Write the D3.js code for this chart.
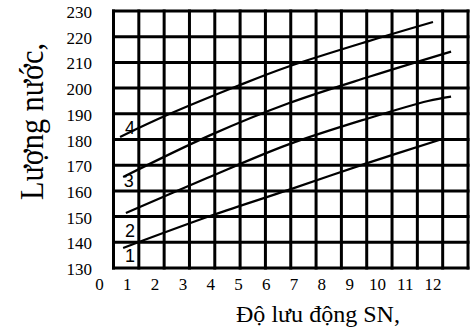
<!DOCTYPE html>
<html>
<head>
<meta charset="utf-8">
<script src="https://cdn.jsdelivr.net/npm/d3@7"></script>
<style>
  html, body { margin: 0; padding: 0; background: #fff; }
  svg { display: block; }
</style>
</head>
<body>
<svg id="chart" width="476" height="333"></svg>
<script>
// Water demand (Lượng nước) against slump (Độ lưu động SN), four curves
const xTicks = [0, 1, 2, 3, 4, 5, 6, 7, 8, 9, 10, 11, 12];
const yTicks = [130, 140, 150, 160, 170, 180, 190, 200, 210, 220, 230];
const seriesNames = ["1", "2", "3", "4"];

const curve1X = [0.85, 4.08, 6.78, 9.55, 12.28];
const curve1Y = [137.8, 150.6, 160.3, 170.5, 180.0];

const curve2X = [0.95, 3.87, 6.78, 9.66, 11.82, 12.65];
const curve2Y = [151.4, 165.0, 178.0, 188.2, 195.0, 196.7];

const curve3X = [0.85, 4.01, 6.78, 9.73, 12.65];
const curve3Y = [165.4, 181.8, 194.0, 204.5, 214.2];

const curve4X = [0.74, 2.43, 5.05, 6.78, 9.66, 12.0];
const curve4Y = [181.0, 189.5, 201.2, 208.3, 218.2, 225.7];

// where each curve number sits, in data units (x, y)
const labelX = [1.1, 1.1, 1.05, 1.1];
const labelY = [132.5, 142.0, 161.5, 182.3];

const gridColumns = 14;

const svg = d3.select("#chart");

const plot = { left: 113.5, right: 468, top: 11, bottom: 268 };

const x = d3.scaleLinear().domain([0, 12]).range([99.5, 433]);
const y = d3.scaleLinear().domain([130, 230]).range([plot.bottom, plot.top]);
const gx = d3.scaleLinear().domain([0, gridColumns]).range([plot.left, plot.right]);

// grid
const grid = svg.append("g").attr("stroke", "#000").attr("stroke-width", 3).attr("stroke-linecap", "square");
grid.selectAll("line.h").data(yTicks).join("line")
  .attr("class", "h")
  .attr("x1", plot.left).attr("x2", plot.right)
  .attr("y1", d => y(d)).attr("y2", d => y(d));
grid.selectAll("line.v").data(d3.range(gridColumns + 1)).join("line")
  .attr("class", "v")
  .attr("x1", d => gx(d)).attr("x2", d => gx(d))
  .attr("y1", plot.top).attr("y2", plot.bottom);

// curves
const series = [
  d3.zip(curve1X, curve1Y),
  d3.zip(curve2X, curve2Y),
  d3.zip(curve3X, curve3Y),
  d3.zip(curve4X, curve4Y)
];
const line = d3.line().x(d => x(d[0])).y(d => y(d[1])).curve(d3.curveCatmullRom.alpha(0.5));
svg.append("g").selectAll("path").data(series).join("path")
  .attr("d", line)
  .attr("fill", "none")
  .attr("stroke", "#000")
  .attr("stroke-width", 2.2);

// curve numbers
svg.append("g").selectAll("text").data(seriesNames).join("text")
  .attr("x", (d, i) => x(labelX[i]))
  .attr("y", (d, i) => y(labelY[i]))
  .attr("text-anchor", "middle")
  .attr("font-family", "Liberation Sans, Arial, sans-serif")
  .attr("font-size", 18)
  .attr("fill", "#000")
  .text(d => d);

// y tick labels
const serif = "Liberation Serif, Times New Roman, serif";
svg.append("g").selectAll("text").data(yTicks).join("text")
  .attr("x", 92)
  .attr("y", d => y(d) + 7)
  .attr("text-anchor", "end")
  .attr("font-family", serif)
  .attr("font-size", 17)
  .text(d => d);

// x tick labels
svg.append("g").selectAll("text").data(xTicks).join("text")
  .attr("x", d => x(d))
  .attr("y", 290)
  .attr("text-anchor", "middle")
  .attr("font-family", serif)
  .attr("font-size", 17)
  .text(d => d);

// axis titles
svg.append("text")
  .attr("x", 236)
  .attr("y", 322)
  .attr("font-family", serif)
  .attr("font-size", 23.5)
  .attr("textLength", 164)
  .attr("lengthAdjust", "spacingAndGlyphs")
  .text("Độ lưu động SN,");

svg.append("text")
  .attr("transform", "translate(43,200) rotate(-90)")
  .attr("x", 0).attr("y", 0)
  .attr("font-family", serif)
  .attr("font-size", 34)
  .attr("textLength", 157)
  .attr("lengthAdjust", "spacingAndGlyphs")
  .text("Lượng nước,");
</script>
</body>
</html>
